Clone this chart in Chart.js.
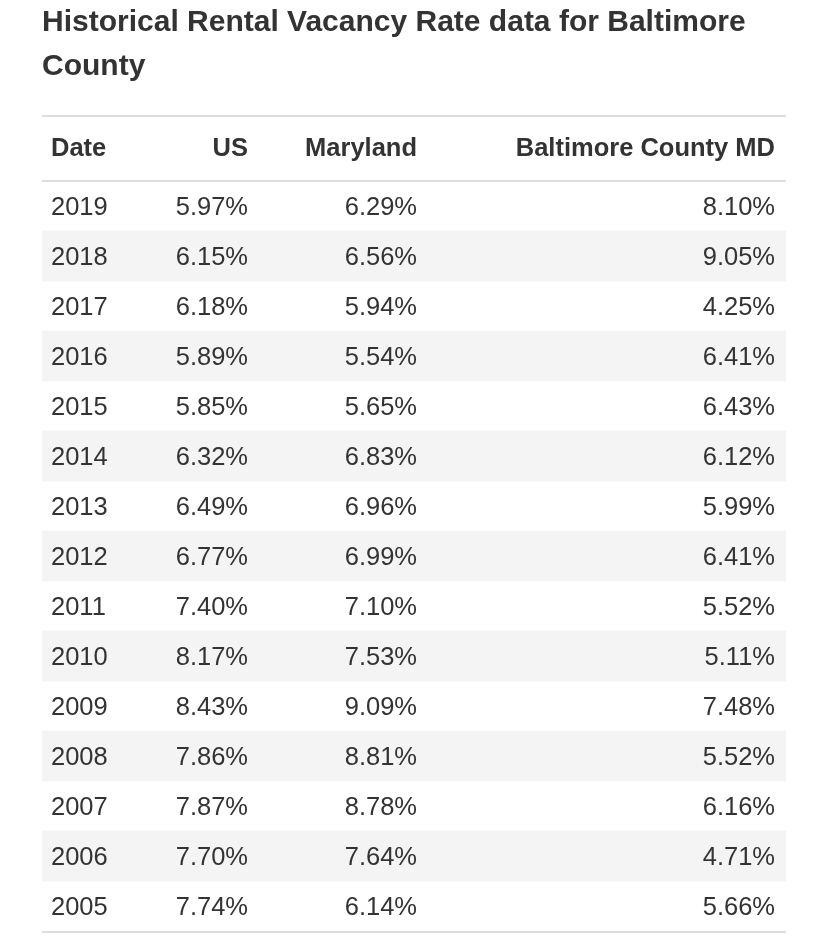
<!DOCTYPE html>
<html>
<head>
<meta charset="utf-8">
<script src="https://cdn.jsdelivr.net/npm/chart.js@4"></script>
<style>
  html, body { margin: 0; padding: 0; background: #ffffff; }
  #wrap { width: 827px; height: 943px; }
</style>
</head>
<body>
<div id="wrap"><canvas id="c" width="827" height="943"></canvas></div>
<script>
// ---- data ----
const titleLines = ['Historical Rental Vacancy Rate data for Baltimore', 'County'];
const headers = ['Date', 'US', 'Maryland', 'Baltimore County MD'];
const years = ['2019','2018','2017','2016','2015','2014','2013','2012','2011','2010','2009','2008','2007','2006','2005'];
const usRate = [5.97, 6.15, 6.18, 5.89, 5.85, 6.32, 6.49, 6.77, 7.40, 8.17, 8.43, 7.86, 7.87, 7.70, 7.74];
const marylandRate = [6.29, 6.56, 5.94, 5.54, 5.65, 6.83, 6.96, 6.99, 7.10, 7.53, 9.09, 8.81, 8.78, 7.64, 6.14];
const baltimoreRate = [8.10, 9.05, 4.25, 6.41, 6.43, 6.12, 5.99, 6.41, 5.52, 5.11, 7.48, 5.52, 6.16, 4.71, 5.66];

// ---- layout / style ----
const TABLE_W = 744;              // x-scale span (table width)
const HEADER_H = 65;
const FONT = '"Liberation Sans", Arial, Helvetica, sans-serif';
const TEXT = '#333333';
const RULE = '#dddddd';
const STRIPE = '#f4f4f4';
// column anchors on the x scale: [position, align]
const cols = [[9, 'left'], [206, 'right'], [375, 'right'], [733, 'right']];

const fmt = v => v.toFixed(2) + '%';
const columns = [years, usRate.map(fmt), marylandRate.map(fmt), baltimoreRate.map(fmt)];

const tablePlugin = {
  id: 'tablePlugin',
  afterDatasetsDraw(chart) {
    const ctx = chart.ctx;
    const xs = chart.scales.x, ys = chart.scales.y;
    const ca = chart.chartArea;
    const x0 = xs.getPixelForValue(0), x1 = xs.getPixelForValue(TABLE_W);
    const headTop = ca.top - HEADER_H;
    ctx.save();
    // rules
    ctx.fillStyle = RULE;
    ctx.fillRect(x0, headTop - 1, x1 - x0, 2);
    ctx.fillRect(x0, ca.top - 1, x1 - x0, 2);
    ctx.fillRect(x0, ca.bottom, x1 - x0, 2);
    // header
    ctx.fillStyle = TEXT;
    ctx.textBaseline = 'middle';
    ctx.font = 'bold 25.5px ' + FONT;
    const hy = headTop + HEADER_H / 2 + 0.5;
    headers.forEach((h, c) => {
      ctx.textAlign = cols[c][1];
      ctx.fillText(h, xs.getPixelForValue(cols[c][0]), hy);
    });
    // body
    ctx.font = '25.5px ' + FONT;
    years.forEach((yr, i) => {
      const y = ys.getPixelForValue(i) + 1.5;
      columns.forEach((col, c) => {
        ctx.textAlign = cols[c][1];
        ctx.fillText(col[i], xs.getPixelForValue(cols[c][0]), y);
      });
    });
    ctx.restore();
  }
};

new Chart(document.getElementById('c'), {
  type: 'bar',
  data: {
    labels: years,
    datasets: [{
      label: 'stripes',
      data: years.map((y, i) => (i % 2 === 1 ? [0, TABLE_W] : null)),
      backgroundColor: STRIPE,
      borderWidth: 0,
      barPercentage: 1,
      categoryPercentage: 1
    }]
  },
  options: {
    indexAxis: 'y',
    responsive: false,
    animation: false,
    devicePixelRatio: 1,
    layout: { padding: { left: 42, right: 41, top: 1, bottom: 12 } },
    scales: {
      x: { type: 'linear', min: 0, max: TABLE_W, display: false },
      y: { type: 'category', display: false, offset: true }
    },
    plugins: {
      legend: { display: false },
      tooltip: { enabled: false },
      title: {
        display: true,
        text: titleLines,
        align: 'start',
        color: TEXT,
        font: { family: FONT, size: 30, weight: 'bold', lineHeight: 44 / 30 },
        padding: { top: 0, bottom: 92 }
      }
    }
  },
  plugins: [tablePlugin]
});
</script>
</body>
</html>
